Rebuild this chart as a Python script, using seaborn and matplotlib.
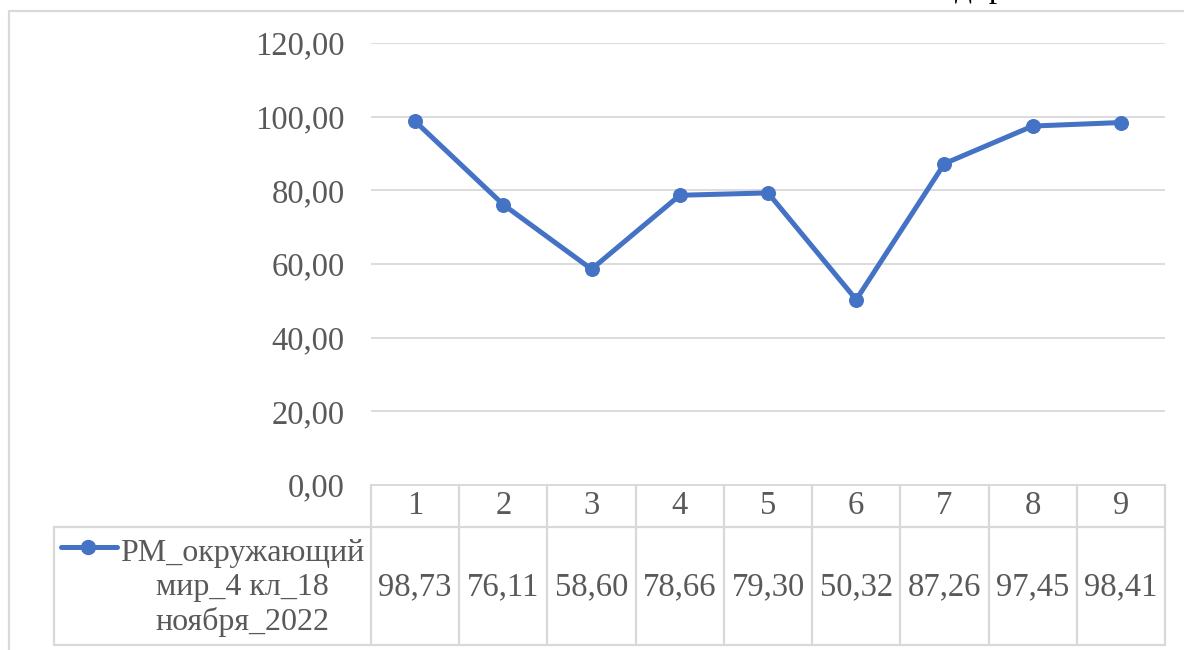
import matplotlib
matplotlib.use("Agg")
import matplotlib.pyplot as plt
import seaborn as sns
import pandas as pd
from matplotlib.lines import Line2D

# ---- data ----
categories = ["1", "2", "3", "4", "5", "6", "7", "8", "9"]
values = [98.73, 76.11, 58.60, 78.66, 79.30, 50.32, 87.26, 97.45, 98.41]
series_name = "РМ_окружающий\nмир_4 кл_18\nноября_2022"
yticks = [0, 20, 40, 60, 80, 100, 120]

def fmt(v):
    return f"{v:.2f}".replace(".", ",")

sns.set_theme(style="white")
plt.rcParams['font.family'] = ['Liberation Serif', 'DejaVu Serif']

W, H = 1184, 650
fig = plt.figure(figsize=(W / 100, H / 100), dpi=100)

def fx(px):
    return px / W

def fy(py):
    return 1 - py / H

LINE_C = "#4472C4"
GRID_C = "#D9D9D9"
TXT_C = "#595959"
FS = 23.5

# plot area
left, right, top, bottom = 371, 1165, 43, 485
ax = fig.add_axes([fx(left), fy(bottom), fx(right) - fx(left), fy(top) - fy(bottom)])
df = pd.DataFrame({"x": range(len(categories)), "y": values})
sns.lineplot(data=df, x="x", y="y", ax=ax, color=LINE_C, linewidth=3.6,
             marker="o", markersize=10, markeredgecolor=LINE_C, zorder=3)
ax.set_xlim(-0.5, len(categories) - 0.5)
ax.set_ylim(0, 120)
ax.set_yticks(yticks)
ax.set_yticklabels([fmt(t) for t in yticks], color=TXT_C, fontsize=FS)
ax.tick_params(axis="y", length=0, pad=19)
ax.set_xticks([])
ax.set_xlabel("")
ax.set_ylabel("")
for s in ["top", "right", "left"]:
    ax.spines[s].set_visible(False)
ax.spines["bottom"].set_color(GRID_C)
ax.spines["bottom"].set_linewidth(1.3)
ax.grid(axis="y", color=GRID_C, linewidth=1.3)
ax.set_axisbelow(True)

# data table
row1, row2, row3 = 485, 527, 645
leg_left = 54
col_w = (right - left) / len(categories)

def hline(y, x0, x1):
    fig.add_artist(Line2D([fx(x0), fx(x1)], [fy(y), fy(y)], color=GRID_C, lw=1.6))

def vline(x, y0, y1):
    fig.add_artist(Line2D([fx(x), fx(x)], [fy(y0), fy(y1)], color=GRID_C, lw=1.6))

hline(row2, leg_left, right)
hline(row3, leg_left, right)
vline(leg_left, row2, row3)
for i in range(len(categories) + 1):
    vline(left + i * col_w, row1, row3)

for i, (c, v) in enumerate(zip(categories, values)):
    cx = left + (i + 0.5) * col_w
    fig.text(fx(cx), fy((row1 + row2) / 2), c, ha="center", va="center",
             fontsize=FS, color=TXT_C)
    fig.text(fx(cx), fy((row2 + row3) / 2 + 1), fmt(v), ha="center", va="center",
             fontsize=FS, color=TXT_C)

# legend key in table
fig.add_artist(Line2D([fx(61), fx(117)], [fy(547), fy(547)], color=LINE_C, lw=3.6,
                      solid_capstyle="round"))
fig.add_artist(Line2D([fx(88)], [fy(547)], color=LINE_C, marker="o", markersize=10, lw=0))
fig.text(fx(242), fy(588), series_name, ha="center", va="center", fontsize=23,
         color=TXT_C, linespacing=1.22)

# chart outer border
fig.add_artist(Line2D([fx(9), fx(9), fx(W)], [fy(H), fy(11), fy(11)], color=GRID_C, lw=1.6))

# clipped document text above the chart
fig.text(fx(955), fy(-3), "д  р", ha="left", va="baseline", fontsize=24, color="black")

fig.savefig("out.png", dpi=100)
